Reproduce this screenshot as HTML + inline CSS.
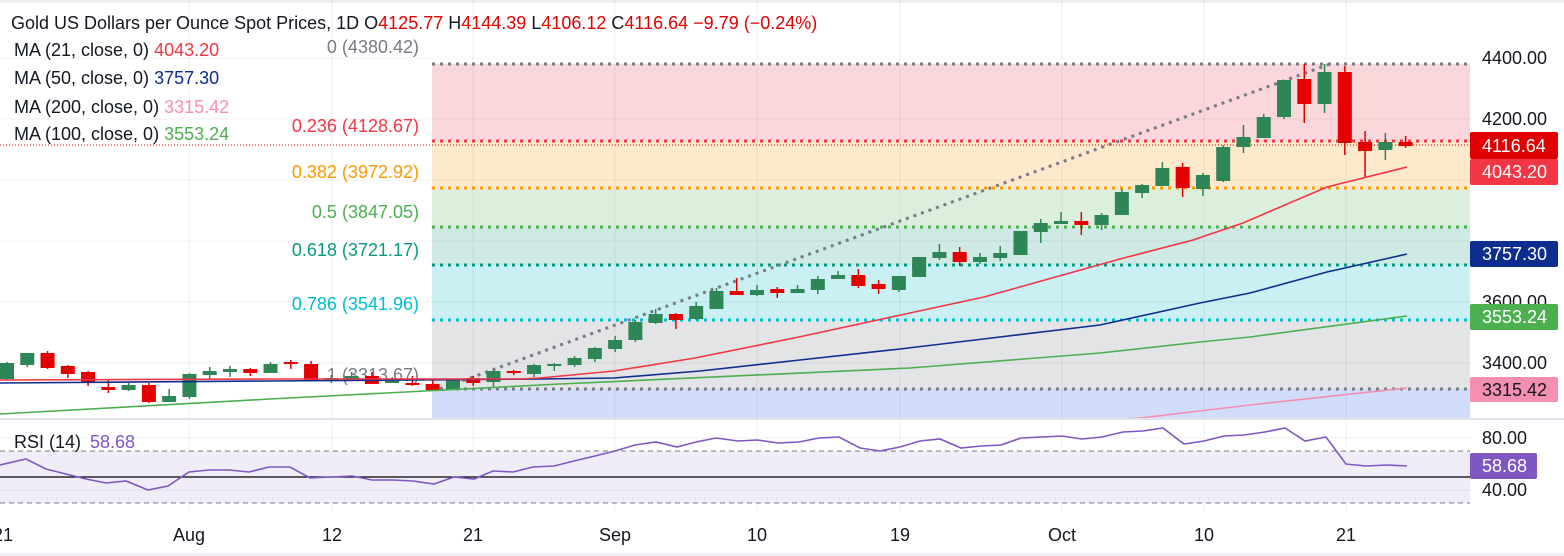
<!DOCTYPE html>
<html><head><meta charset="utf-8"><style>
html,body{margin:0;padding:0;background:#fff;width:1564px;height:556px;overflow:hidden}
svg{display:block;font-family:"Liberation Sans","DejaVu Sans",sans-serif}
</style></head><body>
<svg id="c" width="1564" height="556" viewBox="0 0 1564 556" xmlns="http://www.w3.org/2000/svg">
<rect x="0" y="0" width="1564" height="556" fill="#fff"/>
<rect x="0" y="0" width="1564" height="3" fill="#eef0f3"/>
<rect x="0" y="553" width="1564" height="3" fill="#eef0f3"/>
<rect x="432" y="64" width="1038" height="77" fill="#fad7da"/>
<rect x="432" y="141" width="1038" height="47" fill="#ffe9cc"/>
<rect x="432" y="188" width="1038" height="39" fill="#dcefdc"/>
<rect x="432" y="227" width="1038" height="38" fill="#cfeae4"/>
<rect x="432" y="265" width="1038" height="55" fill="#c9f0f3"/>
<rect x="432" y="320" width="1038" height="69" fill="#e3e4e6"/>
<rect x="432" y="389" width="1038" height="29" fill="#d2dcfb"/>
<g stroke="#000" stroke-opacity="0.06" stroke-width="1">
<line x1="0" y1="58" x2="1470" y2="58"/><line x1="0" y1="119" x2="1470" y2="119"/>
<line x1="0" y1="180" x2="1470" y2="180"/><line x1="0" y1="241" x2="1470" y2="241"/>
<line x1="0" y1="302" x2="1470" y2="302"/><line x1="0" y1="363" x2="1470" y2="363"/>
<line x1="189" y1="0" x2="189" y2="512"/><line x1="332" y1="0" x2="332" y2="512"/>
<line x1="473" y1="0" x2="473" y2="512"/><line x1="615" y1="0" x2="615" y2="512"/>
<line x1="757" y1="0" x2="757" y2="512"/><line x1="900" y1="0" x2="900" y2="512"/>
<line x1="1062" y1="0" x2="1062" y2="512"/><line x1="1204" y1="0" x2="1204" y2="512"/>
<line x1="1346" y1="0" x2="1346" y2="512"/>
</g>
<g stroke-width="3" stroke-dasharray="3 5" fill="none">
<line x1="432" y1="64" x2="1470" y2="64" stroke="#787b86"/>
<line x1="432" y1="141" x2="1470" y2="141" stroke="#f23645"/>
<line x1="432" y1="188" x2="1470" y2="188" stroke="#ff9800"/>
<line x1="432" y1="227" x2="1470" y2="227" stroke="#4caf50"/>
<line x1="432" y1="265" x2="1470" y2="265" stroke="#089981"/>
<line x1="432" y1="320" x2="1470" y2="320" stroke="#00bcd4"/>
<line x1="432" y1="389" x2="1470" y2="389" stroke="#787b86"/>
<line x1="440" y1="389" x2="1330" y2="64" stroke="#787b86"/>
</g>
<line x1="0" y1="145" x2="1470" y2="145" stroke="#e00000" stroke-width="1" stroke-dasharray="1 2"/>
<g font-size="18" text-anchor="end">
<text x="419" y="53" fill="#787b86">0 (4380.42)</text>
<text x="419" y="132" fill="#f23645">0.236 (4128.67)</text>
<text x="419" y="178" fill="#ff9800">0.382 (3972.92)</text>
<text x="419" y="218" fill="#4caf50">0.5 (3847.05)</text>
<text x="419" y="256" fill="#089981">0.618 (3721.17)</text>
<text x="419" y="310" fill="#00bcd4">0.786 (3541.96)</text>
<text x="419" y="381" fill="#787b86">1 (3313.67)</text>
</g>
<g id="cand"></g>
<g fill="none" stroke-width="1.6">
<polyline stroke="#f48fb1" points="1120,419 1140,418 1250,405 1407,388"/>
<polyline stroke="#4caf50" points="0,414 270,399 560,384 910,368 1100,353 1200,342 1250,337 1407,316"/>
<polyline stroke="#0d2d8f" points="0,383 270,381 540,379 614,378 700,371 800,360 900,349 1000,337 1100,325 1200,303 1250,293 1327,272 1407,254"/>
<polyline stroke="#f23645" points="0,380 270,379 520,379 540,378 614,371 695,358 799,337 910,313 984,297 1120,259 1193,240 1243,223 1327,187 1367,177 1407,167"/>
</g>
<line x1="0" y1="419" x2="1564" y2="419" stroke="#e0e3eb" stroke-width="2"/>
<rect x="0" y="451" width="1470" height="52" fill="#f0ecf8"/>
<line x1="0" y1="438" x2="1470" y2="438" stroke="#000" stroke-opacity="0.06"/>
<line x1="0" y1="490" x2="1470" y2="490" stroke="#000" stroke-opacity="0.06"/>
<line x1="0" y1="451" x2="1470" y2="451" stroke="#787b86" stroke-dasharray="5 4"/>
<line x1="0" y1="503" x2="1470" y2="503" stroke="#787b86" stroke-dasharray="5 4"/>
<line x1="0" y1="477" x2="1470" y2="477" stroke="#000" stroke-width="1.2"/>
<polyline fill="none" stroke="#7e57c2" stroke-width="1.6" points="0,465 26,459 46,469 66,474 86,479 106,483 126,481 148,490 168,486 189,472 209,470 229,470 249,472 269,467 290,467 310,478 331,477 352,476 372,480 393,480 413,481 434,484 454,477 474,479 493,471 513,472 533,467 554,466 574,461 595,456 615,451 635,445 656,442 677,447 696,442 716,438 738,441 757,440 778,443 799,442 819,438 839,437 860,448 880,451 900,447 920,441 940,439 961,448 981,446 1001,445 1021,438 1042,437 1062,436 1082,439 1102,437 1123,432 1143,431 1163,428 1184,444 1204,441 1224,436 1244,435 1265,432 1285,428 1305,441 1326,437 1346,464 1366,466 1387,465 1407,466"/>
<text x="14" y="448" font-size="18" fill="#131722">RSI (14)</text>
<text x="90" y="448" font-size="18" fill="#7e57c2">58.68</text>
<g font-size="18">
<text x="11" y="29" fill="#131722">Gold US Dollars per Ounce Spot Prices, 1D  O<tspan fill="#e00000">4125.77</tspan>  H<tspan fill="#e00000">4144.39</tspan>  L<tspan fill="#e00000">4106.12</tspan>  C<tspan fill="#e00000">4116.64</tspan>  <tspan fill="#e00000">−9.79 (−0.24%)</tspan></text>
<text x="14" y="56" fill="#131722">MA (21, close, 0)  <tspan fill="#f23645">4043.20</tspan></text>
<text x="14" y="84" fill="#131722">MA (50, close, 0)  <tspan fill="#0d2d8f">3757.30</tspan></text>
<text x="14" y="113" fill="#131722">MA (200, close, 0)  <tspan fill="#f48fb1">3315.42</tspan></text>
<text x="14" y="140" fill="#131722">MA (100, close, 0)  <tspan fill="#4caf50">3553.24</tspan></text>
</g>
<g font-size="18" fill="#131722">
<text x="1482" y="64">4400.00</text>
<text x="1482" y="125">4200.00</text>
<text x="1482" y="308">3600.00</text>
<text x="1482" y="369">3400.00</text>
<text x="1482" y="444">80.00</text>
<text x="1482" y="496">40.00</text>
</g>
<g font-size="18">
<rect x="1470" y="132" width="88" height="27" rx="2" fill="#e00000"/><text x="1482" y="152" fill="#fff">4116.64</text>
<rect x="1470" y="159" width="88" height="26" rx="2" fill="#f23645"/><text x="1482" y="178" fill="#fff">4043.20</text>
<rect x="1470" y="241" width="88" height="26" rx="2" fill="#0d2d8f"/><text x="1482" y="260" fill="#fff">3757.30</text>
<rect x="1470" y="304" width="88" height="26" rx="2" fill="#4caf50"/><text x="1482" y="323" fill="#fff">3553.24</text>
<rect x="1470" y="377" width="88" height="25" rx="2" fill="#f48fb1"/><text x="1482" y="396" fill="#131722">3315.42</text>
<rect x="1470" y="453" width="67" height="26" rx="2" fill="#7e57c2"/><text x="1482" y="472" fill="#fff">58.68</text>
</g>
<g font-size="18" fill="#131722" text-anchor="middle">
<text x="3" y="541">21</text><text x="189" y="541">Aug</text><text x="332" y="541">12</text>
<text x="473" y="541">21</text><text x="615" y="541">Sep</text><text x="757" y="541">10</text>
<text x="900" y="541">19</text><text x="1062" y="541">Oct</text><text x="1204" y="541">10</text>
<text x="1346" y="541">21</text>
</g>
</svg>
<script>
var d=[[363,379,362,380,1],[353,365,353,367,1],[353,368,351,369,0],[366,374,365,378,0],[372,383,371,386,0],[387,390,380,393,0],[385,390,383,391,1],[385,402,383,403,0],[396,402,389,402,1],[374,397,373,399,1],[371,375,367,379,1],[369,372,366,377,1],[369,373,368,376,0],[364,373,362,373,1],[362,364,360,369,0],[364,381,361,381,0],[378,381,375,383,1],[376,379,372,380,1],[376,384,372,384,0],[381,382,377,383,1],[383,384,376,386,0],[384,390,380,390,0],[379,390,379,390,1],[378,383,376,386,0],[371,382,370,387,1],[371,373,370,375,0],[365,374,364,377,1],[364,366,363,371,1],
[358,365,356,367,1],[348,359,347,362,1],[340,349,336,352,1],[322,340,320,342,1],[314,323,309,324,1],[314,320,313,329,0],[306,319,302,320,1],[291,309,288,309,1],[291,295,278,295,0],[290,295,285,296,1],[289,293,287,298,0],[289,293,285,293,1],[279,290,276,294,1],[275,279,271,279,1],[275,286,269,288,0],[284,289,280,294,0],[276,290,276,292,1],[257,277,257,277,1],[252,258,244,260,1],[252,262,247,266,0],[257,262,253,264,1],[253,258,246,261,1],[231,255,231,255,1],[223,232,219,243,1],[221,224,212,224,1],[221,225,212,235,0],[215,225,213,230,1],[192,215,189,215,1],
[185,193,184,198,1],[168,186,162,186,1],[167,188,163,197,0],[175,189,173,196,1],[147,181,145,182,1],[137,147,125,153,1],[117,138,114,138,1],[80,117,80,119,1],[79,104,64,123,0],[72,104,64,113,1],[72,143,66,155,0],[142,151,131,178,0],[142,150,133,160,1],[142,146,136,148,0]];
var s='';
for(var i=0;i<d.length;i++){var x=7+i*20.27,c=d[i],col=c[4]?'#2e8555':'#e50000';
var h=Math.max(c[1]-c[0],2);
s+='<line x1="'+x+'" y1="'+c[2]+'" x2="'+x+'" y2="'+c[3]+'" stroke="'+col+'" stroke-width="1.5"/>';
s+='<rect x="'+(x-7)+'" y="'+c[0]+'" width="14" height="'+h+'" fill="'+col+'"/>';}
document.getElementById('cand').innerHTML=s;
</script>
</body></html>
